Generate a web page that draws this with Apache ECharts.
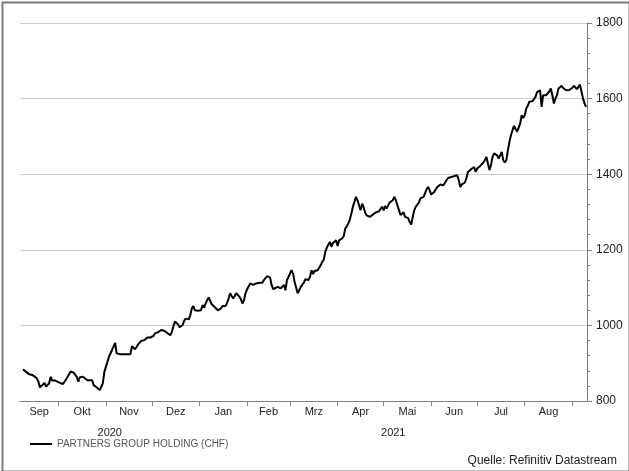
<!DOCTYPE html>
<html><head><meta charset="utf-8">
<script src="https://cdn.jsdelivr.net/npm/echarts@6/dist/echarts.min.js"></script>
<style>html,body{margin:0;padding:0;background:#fff}#c{width:629px;height:471px}</style>
</head><body><div id="c"></div>
<script>
const dates = [
'2020-09-08','2020-09-10','2020-09-11','2020-09-12','2020-09-14','2020-09-15','2020-09-17','2020-09-18','2020-09-19','2020-09-20',
'2020-09-22','2020-09-23','2020-09-24','2020-09-25','2020-09-26','2020-09-27','2020-09-28','2020-09-29','2020-09-30','2020-10-02',
'2020-10-04','2020-10-06','2020-10-08','2020-10-09','2020-10-11','2020-10-13','2020-10-14','2020-10-15','2020-10-17','2020-10-20',
'2020-10-21','2020-10-23','2020-10-24','2020-10-26','2020-10-28','2020-10-29','2020-10-30','2020-10-31','2020-11-03','2020-11-05',
'2020-11-06','2020-11-07','2020-11-08','2020-11-10','2020-11-14','2020-11-17','2020-11-18','2020-11-19','2020-11-20','2020-11-21',
'2020-11-22','2020-11-23','2020-11-24','2020-11-26','2020-11-27','2020-11-28','2020-11-29','2020-11-30','2020-12-01','2020-12-02',
'2020-12-03','2020-12-04','2020-12-05','2020-12-07','2020-12-08','2020-12-09','2020-12-10','2020-12-11','2020-12-12','2020-12-13',
'2020-12-14','2020-12-15','2020-12-16','2020-12-17','2020-12-18','2020-12-19','2020-12-21','2020-12-22','2020-12-23','2020-12-24',
'2020-12-25','2020-12-26','2020-12-27','2020-12-28','2020-12-29','2020-12-30','2020-12-31','2021-01-02','2021-01-03','2021-01-04',
'2021-01-05','2021-01-06','2021-01-07','2021-01-08','2021-01-09','2021-01-10','2021-01-11','2021-01-12','2021-01-13','2021-01-15',
'2021-01-16','2021-01-17','2021-01-18','2021-01-19','2021-01-20','2021-01-21','2021-01-22','2021-01-23','2021-01-24','2021-01-25',
'2021-01-27','2021-01-28','2021-01-29','2021-01-30','2021-01-31','2021-02-01','2021-02-02','2021-02-03','2021-02-04','2021-02-05',
'2021-02-06','2021-02-07','2021-02-09','2021-02-10','2021-02-11','2021-02-12','2021-02-13','2021-02-14','2021-02-15','2021-02-16',
'2021-02-17','2021-02-18','2021-02-19','2021-02-21','2021-02-22','2021-02-23','2021-02-24','2021-02-25','2021-02-26','2021-02-27',
'2021-02-28','2021-03-01','2021-03-02','2021-03-03','2021-03-04','2021-03-06','2021-03-07','2021-03-08','2021-03-09','2021-03-10',
'2021-03-11','2021-03-12','2021-03-13','2021-03-14','2021-03-15','2021-03-16','2021-03-17','2021-03-19','2021-03-20','2021-03-21',
'2021-03-22','2021-03-23','2021-03-24','2021-03-25','2021-03-26','2021-03-27','2021-03-28','2021-03-29','2021-03-31','2021-04-01',
'2021-04-02','2021-04-03','2021-04-04','2021-04-05','2021-04-06','2021-04-07','2021-04-08','2021-04-09','2021-04-10','2021-04-11',
'2021-04-13','2021-04-14','2021-04-15','2021-04-16','2021-04-17','2021-04-18','2021-04-19','2021-04-20','2021-04-21','2021-04-22',
'2021-04-23','2021-04-24','2021-04-26','2021-04-27','2021-04-28','2021-04-29','2021-04-30','2021-05-01','2021-05-02','2021-05-03',
'2021-05-04','2021-05-05','2021-05-06','2021-05-07','2021-05-08','2021-05-09','2021-05-10','2021-05-11','2021-05-12','2021-05-13',
'2021-05-14','2021-05-15','2021-05-16','2021-05-17','2021-05-18','2021-05-19','2021-05-20','2021-05-21','2021-05-22','2021-05-23',
'2021-05-24','2021-05-25','2021-05-26','2021-05-27','2021-05-28','2021-05-29','2021-05-30','2021-05-31','2021-06-01','2021-06-03',
'2021-06-04','2021-06-05','2021-06-06','2021-06-07','2021-06-08','2021-06-09','2021-06-10','2021-06-11','2021-06-12','2021-06-13',
'2021-06-16','2021-06-18','2021-06-19','2021-06-20','2021-06-21','2021-06-22','2021-06-23','2021-06-24','2021-06-25','2021-06-26',
'2021-06-27','2021-06-29','2021-06-30','2021-07-01','2021-07-02','2021-07-03','2021-07-04','2021-07-05','2021-07-06','2021-07-07',
'2021-07-08','2021-07-09','2021-07-10','2021-07-11','2021-07-12','2021-07-13','2021-07-14','2021-07-15','2021-07-16','2021-07-17',
'2021-07-18','2021-07-19','2021-07-20','2021-07-21','2021-07-22','2021-07-23','2021-07-24','2021-07-25','2021-07-26','2021-07-27',
'2021-07-28','2021-07-29','2021-07-30','2021-07-31','2021-08-01','2021-08-02','2021-08-03','2021-08-04','2021-08-05','2021-08-06',
'2021-08-07','2021-08-08','2021-08-09','2021-08-10','2021-08-11','2021-08-12','2021-08-13','2021-08-14','2021-08-15','2021-08-16',
'2021-08-17','2021-08-18','2021-08-19','2021-08-20','2021-08-21','2021-08-22','2021-08-23','2021-08-24','2021-08-25','2021-08-26',
'2021-08-27','2021-08-28','2021-08-29','2021-08-30','2021-08-31','2021-09-01','2021-09-02','2021-09-03','2021-09-04','2021-09-05',
'2021-09-06','2021-09-07','2021-09-08','2021-09-09','2021-09-10'
];
const prices = [
884,877,880,871,869,871,860,851,836,840,
848,838,840,847,864,854,851,854,849,848,
845,857,871,878,875,864,851,863,864,855,
857,855,842,836,829,826,847,877,917,935,
939,954,926,924,924,924,945,941,937,943,
950,954,959,961,963,968,972,968,965,972,
979,980,982,988,988,986,986,980,977,974,
983,998,1010,1014,1003,995,1001,1012,1018,1016,
1016,1027,1045,1051,1040,1038,1039,1040,1054,1047,
1058,1067,1074,1065,1056,1051,1048,1045,1040,1045,
1051,1054,1051,1060,1071,1085,1077,1071,1076,1085,
1076,1069,1058,1067,1085,1095,1091,1111,1115,1107,
1111,1111,1113,1115,1113,1120,1124,1130,1133,1127,
1107,1096,1098,1102,1100,1098,1102,1107,1093,1120,
1128,1137,1146,1137,1115,1085,1093,1102,1107,1113,
1122,1127,1120,1128,1146,1136,1144,1146,1142,1159,
1168,1174,1195,1206,1210,1221,1208,1218,1225,1210,
1225,1230,1230,1236,1256,1262,1270,1280,1296,1314,
1340,1331,1318,1305,1322,1312,1298,1291,1288,1287,
1287,1293,1299,1300,1302,1299,1314,1304,1316,1309,
1318,1325,1322,1331,1340,1331,1318,1305,1292,1287,
1299,1287,1283,1284,1274,1267,1287,1305,1314,1316,
1325,1336,1337,1340,1349,1360,1366,1358,1346,1353,
1360,1366,1364,1373,1378,1371,1373,1384,1390,1393,
1395,1397,1384,1366,1373,1378,1378,1390,1406,1408,
1413,1419,1406,1415,1419,1422,1424,1431,1437,1446,
1428,1411,1424,1446,1455,1452,1450,1441,1437,1459,
1437,1431,1437,1463,1485,1503,1516,1528,1525,1512,
1514,1534,1556,1549,1556,1574,1581,1592,1596,1593,
1598,1604,1617,1619,1622,1578,1609,1604,1609,1613,
1619,1627,1609,1587,1600,1609,1627,1631,1634,1628,
1625,1622,1622,1623,1621,1628,1634,1631,1625,1631,
1637,1633,1600,1587,1578
];
const seriesName = 'PARTNERS GROUP HOLDING (CHF)';
const monthLabels = ['Sep','Okt','Nov','Dez','Jan','Feb','Mrz','Apr','Mai','Jun','Jul','Aug'];
const monthBounds = ['2020-09-06','2020-10-01','2020-11-01','2020-12-01','2021-01-01','2021-02-01','2021-03-01',
  '2021-04-01','2021-05-01','2021-06-01','2021-07-01','2021-08-01','2021-09-01'];
const yearLabels = ['2020','2021'];
const yearBounds = ['2020-09-06','2021-01-01','2021-09-10T14'];
const axisStart = '2020-09-06';
const axisEnd = '2021-09-10T14';
const yMin = 800, yMax = 1800, yStep = 200;
const sourceText = 'Quelle: Refinitiv Datastream';

const DAY = 86400000;
function dayIdx(s){
  const [dp, hp] = s.split('T');
  const [y,m,d] = dp.split('-').map(Number);
  return (Date.UTC(y, m-1, d, hp ? Number(hp) : 0) - Date.UTC(2020, 8, 6)) / DAY;
}
const xMin = dayIdx(axisStart), xMax = dayIdx(axisEnd);
const tickVals = monthBounds.slice(1).map(dayIdx);
const labelMap = {};
const labelVals = monthLabels.map((l,i)=>{
  const v = (dayIdx(monthBounds[i]) + dayIdx(monthBounds[i+1]))/2;
  labelMap[v.toFixed(2)] = l; return v;
});
const yearMap = {};
const yearVals = yearLabels.map((l,i)=>{
  const v = (dayIdx(yearBounds[i]) + dayIdx(yearBounds[i+1]))/2;
  yearMap[v.toFixed(2)] = l; return v;
});
const FONT = 'Arial, "Liberation Sans", sans-serif';
const chart = echarts.init(document.getElementById('c'), null, {renderer:'canvas'});
chart.setOption({
  animation:false,
  backgroundColor:'#fff',
  grid:{left:20,right:42,top:23,bottom:70,containLabel:false},
  legend:{
    data:[seriesName], left:25, top:434, icon:'rect', itemWidth:22, itemHeight:2, itemGap:5,
    textStyle:{fontSize:10,color:'#555',fontFamily:FONT}
  },
  xAxis:[{
    type:'value', min:xMin, max:xMax, position:'bottom',
    axisLine:{show:true,onZero:false,lineStyle:{color:'#808080',width:1}},
    axisTick:{show:true,customValues:tickVals,length:5,lineStyle:{color:'#808080'}},
    axisLabel:{customValues:labelVals,formatter:v=>labelMap[Number(v).toFixed(2)]||'',color:'#222',fontSize:11,fontFamily:FONT,margin:5,hideOverlap:false,showMinLabel:true,showMaxLabel:true},
    splitLine:{show:false}
  },{
    type:'value', min:xMin, max:xMax, position:'bottom', offset:21,
    axisLine:{show:false,onZero:false}, axisTick:{show:false}, splitLine:{show:false},
    axisLabel:{customValues:yearVals,formatter:v=>yearMap[Number(v).toFixed(2)]||'',color:'#222',fontSize:11,fontFamily:FONT,margin:5,hideOverlap:false}
  }],
  yAxis:{
    type:'value', position:'right', min:yMin, max:yMax, interval:yStep,
    axisLine:{show:true,onZero:false,lineStyle:{color:'#808080'}},
    axisTick:{show:true,length:5,lineStyle:{color:'#808080'}},
    minorTick:{show:true,splitNumber:5,length:3,lineStyle:{color:'#808080'}},
    splitLine:{show:true,lineStyle:{color:'#cccccc',width:1}},
    axisLabel:{color:'#222',fontSize:12,fontFamily:FONT,margin:9,formatter:v=>String(v)}
  },
  graphic:[
    {type:'text',right:12,top:455,style:{text:sourceText,font:'12px '+FONT,fill:'#222'}},
    {type:'rect',left:0,top:0,silent:true,z:100,shape:{x:1,y:1,width:627,height:469},style:{fill:null,stroke:'#7a7a7a',lineWidth:2}}
  ],
  series:[{
    name:seriesName, type:'line', xAxisIndex:0, showSymbol:false, symbol:'none',
    lineStyle:{color:'#000',width:2}, itemStyle:{color:'#000'},
    data:dates.map((d,i)=>[dayIdx(d),prices[i]])
  }]
});
</script></body></html>
